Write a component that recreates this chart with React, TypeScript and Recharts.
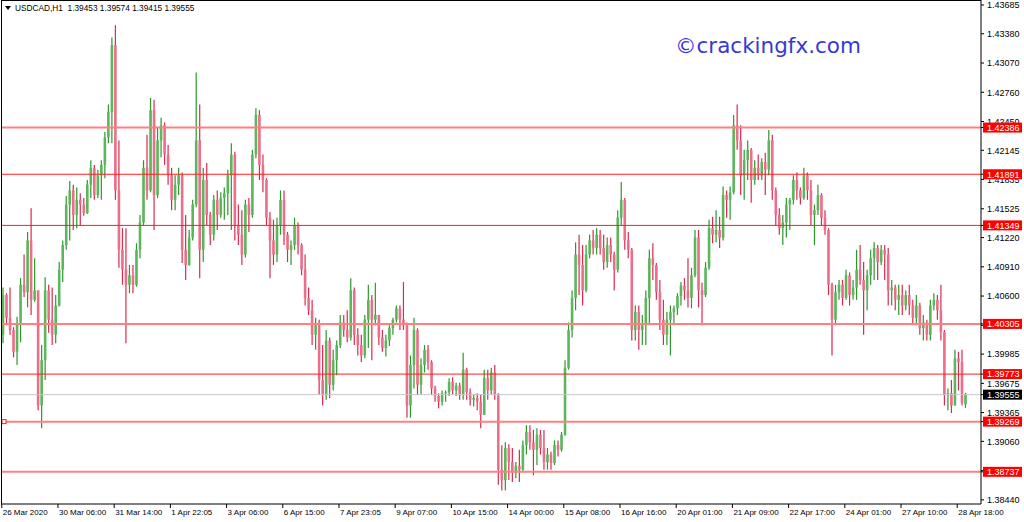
import React from 'react';
import { ComposedChart, Bar, XAxis, YAxis, ReferenceLine } from 'recharts';

// H1 candles (two hours per candle)
const opens = [
  1.4019, 1.4061, 1.4037, 1.4024, 1.4001, 1.4032, 1.4072, 1.4064, 1.4119, 1.4056,
  1.4066, 1.3944, 1.3992, 1.4066, 1.4035, 1.4019, 1.4050, 1.4088, 1.4114, 1.4157,
  1.4172, 1.4146, 1.4162, 1.4157, 1.4148, 1.4178, 1.4196, 1.4167, 1.4188, 1.4199,
  1.4228, 1.4255, 1.4326, 1.4172, 1.4109, 1.4088, 1.4072, 1.4082, 1.4072, 1.4109,
  1.4138, 1.4196, 1.4172, 1.4257, 1.4167, 1.4225, 1.4241, 1.4210, 1.4188, 1.4162,
  1.4178, 1.4188, 1.4109, 1.4093, 1.4122, 1.4157, 1.4225, 1.4109, 1.4183, 1.4146,
  1.4125, 1.4162, 1.4146, 1.4164, 1.4169, 1.4188, 1.4210, 1.4135, 1.4125, 1.4104,
  1.4157, 1.4146, 1.4210, 1.4252, 1.4199, 1.4183, 1.4143, 1.4119, 1.4104, 1.4135,
  1.4162, 1.4125, 1.4109, 1.4114, 1.4135, 1.4114, 1.4088, 1.4058, 1.4045, 1.4019,
  1.4029, 1.3971, 1.3955, 1.4013, 1.3966, 1.3992, 1.4008, 1.4032, 1.4024, 1.4016,
  1.4066, 1.4019, 1.4008, 1.3997, 1.4035, 1.4056, 1.4035, 1.4040, 1.4016, 1.4005,
  1.4013, 1.4026, 1.4035, 1.4047, 1.4035, 1.4029, 1.3944, 1.3987, 1.4024, 1.3966,
  1.3987, 1.4003, 1.3990, 1.3962, 1.3954, 1.3948, 1.3957, 1.3958, 1.3969, 1.3960,
  1.3965, 1.3955, 1.3982, 1.3958, 1.3950, 1.3952, 1.3948, 1.3934, 1.3973, 1.3960,
  1.3979, 1.3955, 1.3876, 1.3865, 1.3899, 1.3884, 1.3873, 1.3880, 1.3876, 1.3902,
  1.3916, 1.3905, 1.3897, 1.3913, 1.3899, 1.3884, 1.3892, 1.3883, 1.3902, 1.3897,
  1.3913, 1.3984, 1.4024, 1.4058, 1.4104, 1.4093, 1.4066, 1.4104, 1.4119, 1.4111,
  1.4125, 1.4111, 1.4096, 1.4114, 1.4104, 1.4088, 1.4143, 1.4162, 1.4119, 1.4109,
  1.4024, 1.4043, 1.4024, 1.4029, 1.4058, 1.4100, 1.4093, 1.4064, 1.4035, 1.4019,
  1.4035, 1.4043, 1.4047, 1.4060, 1.4071, 1.4066, 1.4058, 1.4082, 1.4122, 1.4066,
  1.4061, 1.4090, 1.4132, 1.4125, 1.4130, 1.4122, 1.4167, 1.4162, 1.4170, 1.4241,
  1.4225, 1.4188, 1.4204, 1.4215, 1.4183, 1.4196, 1.4188, 1.4202, 1.4194, 1.4225,
  1.4172, 1.4146, 1.4132, 1.4138, 1.4157, 1.4162, 1.4183, 1.4172, 1.4164, 1.4188,
  1.4172, 1.4146, 1.4151, 1.4167, 1.4143, 1.4130, 1.4072, 1.4035, 1.4064, 1.4072,
  1.4058, 1.4082, 1.4061, 1.4069, 1.4088, 1.4077, 1.4066, 1.4082, 1.4100, 1.4111,
  1.4096, 1.4109, 1.4104, 1.4066, 1.4069, 1.4056, 1.4061, 1.4050, 1.4061, 1.4050,
  1.4037, 1.4050, 1.4026, 1.4032, 1.4019, 1.4050, 1.4056, 1.4045, 1.4022, 1.3955,
  1.3957, 1.3944, 1.3994, 1.3990, 1.39453,
];

const highs = [
  1.4069, 1.4063, 1.4069, 1.4027, 1.4038, 1.4079, 1.4104, 1.4128, 1.4153, 1.4100,
  1.4066, 1.4008, 1.4080, 1.4072, 1.4069, 1.4061, 1.4096, 1.4119, 1.4166, 1.4182,
  1.4178, 1.4175, 1.4169, 1.4164, 1.4183, 1.4204, 1.4199, 1.4194, 1.4204, 1.4234,
  1.4263, 1.4334, 1.4347, 1.4225, 1.4132, 1.4132, 1.4093, 1.4093, 1.4116, 1.4146,
  1.4204, 1.4231, 1.4270, 1.4268, 1.4239, 1.4249, 1.4244, 1.4220, 1.4196, 1.4188,
  1.4196, 1.4191, 1.4146, 1.4130, 1.4162, 1.4297, 1.4263, 1.4196, 1.4201, 1.4149,
  1.4167, 1.4172, 1.4170, 1.4175, 1.4194, 1.4222, 1.4213, 1.4157, 1.4151, 1.4162,
  1.4164, 1.4215, 1.4259, 1.4257, 1.4210, 1.4185, 1.4149, 1.4141, 1.4143, 1.4172,
  1.4172, 1.4128, 1.4119, 1.4143, 1.4138, 1.4116, 1.4104, 1.4069, 1.4056, 1.4037,
  1.4035, 1.4008, 1.4024, 1.4016, 1.4003, 1.4013, 1.4040, 1.4040, 1.4045, 1.4079,
  1.4069, 1.4026, 1.4019, 1.4040, 1.4072, 1.4061, 1.4074, 1.4040, 1.4024, 1.4019,
  1.4029, 1.4037, 1.4050, 1.4050, 1.4075, 1.4032, 1.3997, 1.4037, 1.4026, 1.3994,
  1.4008, 1.4008, 1.3992, 1.3965, 1.3957, 1.3960, 1.3960, 1.3973, 1.3974, 1.3968,
  1.3968, 1.4000, 1.3984, 1.3962, 1.3956, 1.3957, 1.3955, 1.3982, 1.3982, 1.3984,
  1.3987, 1.3957, 1.3902, 1.3905, 1.3903, 1.3899, 1.3884, 1.3897, 1.3907, 1.3923,
  1.3923, 1.3918, 1.3920, 1.3918, 1.3918, 1.3899, 1.3895, 1.3907, 1.3907, 1.3916,
  1.3992, 1.4032, 1.4066, 1.4117, 1.4125, 1.4114, 1.4114, 1.4125, 1.4130, 1.4132,
  1.4130, 1.4125, 1.4122, 1.4122, 1.4107, 1.4151, 1.4181, 1.4164, 1.4128, 1.4111,
  1.4050, 1.4050, 1.4040, 1.4066, 1.4109, 1.4116, 1.4095, 1.4077, 1.4056, 1.4043,
  1.4050, 1.4050, 1.4063, 1.4075, 1.4079, 1.4100, 1.4090, 1.4130, 1.4130, 1.4074,
  1.4096, 1.4141, 1.4144, 1.4151, 1.4144, 1.4176, 1.4172, 1.4176, 1.4252, 1.4263,
  1.4241, 1.4215, 1.4225, 1.4217, 1.4204, 1.4210, 1.4206, 1.4212, 1.4236, 1.4231,
  1.4175, 1.4153, 1.4146, 1.4164, 1.4164, 1.4188, 1.4191, 1.4175, 1.4196, 1.4191,
  1.4183, 1.4157, 1.4178, 1.4169, 1.4151, 1.4132, 1.4074, 1.4072, 1.4077, 1.4077,
  1.4088, 1.4085, 1.4077, 1.4109, 1.4114, 1.4096, 1.4088, 1.4109, 1.4117, 1.4114,
  1.4114, 1.4114, 1.4111, 1.4077, 1.4072, 1.4072, 1.4072, 1.4066, 1.4072, 1.4056,
  1.4061, 1.4053, 1.4040, 1.4035, 1.4056, 1.4063, 1.4061, 1.4072, 1.4024, 1.3962,
  1.3971, 1.4003, 1.4001, 1.4003, 1.39574,
];

const lows = [
  1.4010, 1.4029, 1.4019, 1.3995, 1.3987, 1.4011, 1.4059, 1.4048, 1.4040, 1.4054,
  1.3939, 1.3920, 1.3971, 1.4021, 1.4008, 1.4010, 1.4049, 1.4075, 1.4109, 1.4119,
  1.4130, 1.4132, 1.4135, 1.4145, 1.4147, 1.4164, 1.4162, 1.4164, 1.4162, 1.4185,
  1.4222, 1.4222, 1.4162, 1.4090, 1.4072, 1.4010, 1.4063, 1.4063, 1.4070, 1.4100,
  1.4135, 1.4162, 1.4170, 1.4130, 1.4164, 1.4207, 1.4199, 1.4178, 1.4151, 1.4151,
  1.4167, 1.4095, 1.4077, 1.4092, 1.4119, 1.4154, 1.4079, 1.4096, 1.4135, 1.4114,
  1.4119, 1.4130, 1.4143, 1.4141, 1.4146, 1.4130, 1.4119, 1.4114, 1.4093, 1.4101,
  1.4128, 1.4143, 1.4206, 1.4183, 1.4170, 1.4135, 1.4079, 1.4093, 1.4096, 1.4125,
  1.4114, 1.4096, 1.4093, 1.4109, 1.4104, 1.4082, 1.4050, 1.4040, 1.4008, 1.4003,
  1.3955, 1.3944, 1.3950, 1.3952, 1.3960, 1.3976, 1.4005, 1.4017, 1.4011, 1.4013,
  1.4008, 1.3997, 1.3990, 1.3994, 1.4005, 1.3992, 1.4029, 1.4008, 1.4001, 1.3996,
  1.4007, 1.4019, 1.4032, 1.4024, 1.4024, 1.3931, 1.3931, 1.3962, 1.3955, 1.3955,
  1.3979, 1.3982, 1.3955, 1.3948, 1.3941, 1.3944, 1.3948, 1.3954, 1.3956, 1.3954,
  1.3950, 1.3950, 1.3950, 1.3944, 1.3943, 1.3939, 1.3920, 1.3934, 1.3950, 1.3955,
  1.3950, 1.3860, 1.3854, 1.3854, 1.3865, 1.3863, 1.3867, 1.3863, 1.3873, 1.3892,
  1.3897, 1.3870, 1.3881, 1.3892, 1.3876, 1.3876, 1.3876, 1.3881, 1.3890, 1.3895,
  1.3912, 1.3982, 1.4016, 1.4045, 1.4061, 1.4050, 1.4064, 1.4100, 1.4104, 1.4104,
  1.4104, 1.4088, 1.4090, 1.4096, 1.4066, 1.4085, 1.4135, 1.4109, 1.4100, 1.4013,
  1.4013, 1.4003, 1.4008, 1.4008, 1.4029, 1.4077, 1.4056, 1.4024, 1.4008, 1.4008,
  1.3997, 1.4029, 1.4040, 1.4050, 1.4056, 1.4048, 1.4047, 1.4080, 1.4048, 1.4029,
  1.4059, 1.4088, 1.4116, 1.4117, 1.4111, 1.4119, 1.4143, 1.4141, 1.4168, 1.4215,
  1.4167, 1.4162, 1.4183, 1.4159, 1.4178, 1.4183, 1.4183, 1.4167, 1.4188, 1.4162,
  1.4135, 1.4125, 1.4114, 1.4122, 1.4130, 1.4157, 1.4162, 1.4157, 1.4162, 1.4162,
  1.4135, 1.4114, 1.4146, 1.4135, 1.4125, 1.4061, 1.3997, 1.4029, 1.4056, 1.4050,
  1.4056, 1.4050, 1.4056, 1.4056, 1.4072, 1.4019, 1.4045, 1.4072, 1.4077, 1.4077,
  1.4093, 1.4077, 1.4050, 1.4050, 1.4045, 1.4040, 1.4040, 1.4045, 1.4040, 1.4029,
  1.4029, 1.4019, 1.4013, 1.4013, 1.4013, 1.4045, 1.4035, 1.4013, 1.3944, 1.3939,
  1.3936, 1.3944, 1.3960, 1.3944, 1.39415,
];

const closes = [
  1.4061, 1.4037, 1.4024, 1.4001, 1.4032, 1.4072, 1.4064, 1.4119, 1.4056, 1.4066,
  1.3944, 1.3992, 1.4066, 1.4035, 1.4019, 1.4050, 1.4088, 1.4114, 1.4157, 1.4172,
  1.4146, 1.4162, 1.4157, 1.4148, 1.4178, 1.4196, 1.4167, 1.4188, 1.4199, 1.4228,
  1.4255, 1.4326, 1.4172, 1.4109, 1.4088, 1.4072, 1.4082, 1.4072, 1.4109, 1.4138,
  1.4196, 1.4172, 1.4257, 1.4167, 1.4225, 1.4241, 1.4210, 1.4188, 1.4162, 1.4178,
  1.4188, 1.4109, 1.4093, 1.4122, 1.4157, 1.4225, 1.4109, 1.4183, 1.4146, 1.4125,
  1.4162, 1.4146, 1.4164, 1.4169, 1.4188, 1.4210, 1.4135, 1.4125, 1.4104, 1.4157,
  1.4146, 1.4210, 1.4252, 1.4199, 1.4183, 1.4143, 1.4119, 1.4104, 1.4135, 1.4162,
  1.4125, 1.4109, 1.4114, 1.4135, 1.4114, 1.4088, 1.4058, 1.4045, 1.4019, 1.4029,
  1.3971, 1.3955, 1.4013, 1.3966, 1.3992, 1.4008, 1.4032, 1.4024, 1.4016, 1.4066,
  1.4019, 1.4008, 1.3997, 1.4035, 1.4056, 1.4035, 1.4040, 1.4016, 1.4005, 1.4013,
  1.4026, 1.4035, 1.4047, 1.4035, 1.4029, 1.3944, 1.3987, 1.4024, 1.3966, 1.3987,
  1.4003, 1.3990, 1.3962, 1.3954, 1.3948, 1.3957, 1.3958, 1.3969, 1.3960, 1.3965,
  1.3955, 1.3982, 1.3958, 1.3950, 1.3952, 1.3948, 1.3934, 1.3973, 1.3960, 1.3979,
  1.3955, 1.3876, 1.3865, 1.3899, 1.3884, 1.3873, 1.3880, 1.3876, 1.3902, 1.3916,
  1.3905, 1.3897, 1.3913, 1.3899, 1.3884, 1.3892, 1.3883, 1.3902, 1.3897, 1.3913,
  1.3984, 1.4024, 1.4058, 1.4104, 1.4093, 1.4066, 1.4104, 1.4119, 1.4111, 1.4125,
  1.4111, 1.4096, 1.4114, 1.4104, 1.4088, 1.4143, 1.4162, 1.4119, 1.4109, 1.4024,
  1.4043, 1.4024, 1.4029, 1.4058, 1.4100, 1.4093, 1.4064, 1.4035, 1.4019, 1.4035,
  1.4043, 1.4047, 1.4060, 1.4071, 1.4066, 1.4058, 1.4082, 1.4122, 1.4066, 1.4061,
  1.4090, 1.4132, 1.4125, 1.4130, 1.4122, 1.4167, 1.4162, 1.4170, 1.4241, 1.4225,
  1.4188, 1.4204, 1.4215, 1.4183, 1.4196, 1.4188, 1.4202, 1.4194, 1.4225, 1.4172,
  1.4146, 1.4132, 1.4138, 1.4157, 1.4162, 1.4183, 1.4172, 1.4164, 1.4188, 1.4172,
  1.4146, 1.4151, 1.4167, 1.4143, 1.4130, 1.4072, 1.4035, 1.4064, 1.4072, 1.4058,
  1.4082, 1.4061, 1.4069, 1.4088, 1.4077, 1.4066, 1.4082, 1.4100, 1.4111, 1.4096,
  1.4109, 1.4104, 1.4066, 1.4069, 1.4056, 1.4061, 1.4050, 1.4061, 1.4050, 1.4037,
  1.4050, 1.4026, 1.4032, 1.4019, 1.4050, 1.4056, 1.4045, 1.4022, 1.3955, 1.3957,
  1.3944, 1.3994, 1.3990, 1.3947, 1.39555,
];

const timeTicks = [0, 16, 32, 48, 64, 80, 96, 112, 128, 144, 160, 176, 192, 208, 224, 240, 256, 272];
const timeLabels = [
  '26 Mar 2020', '30 Mar 06:00', '31 Mar 14:00', '1 Apr 22:05', '3 Apr 06:00', '6 Apr 15:00',
  '7 Apr 23:05', '9 Apr 07:00', '10 Apr 15:00', '14 Apr 00:00', '15 Apr 08:00', '16 Apr 16:00',
  '20 Apr 01:00', '21 Apr 09:00', '22 Apr 17:00', '24 Apr 01:00', '27 Apr 10:00', '28 Apr 18:00',
];

const priceTicks = [
  1.43685, 1.4338, 1.4307, 1.4276, 1.4245, 1.42145, 1.41835, 1.41525, 1.4122,
  1.4091, 1.406, 1.4029, 1.39985, 1.39675, 1.39365, 1.3906, 1.3875, 1.3844,
];

const levels = [1.42386, 1.41891, 1.41349, 1.40305, 1.39773, 1.39269, 1.38737];
const bidPrice = 1.39555;
const symbolLine = 'USDCAD,H1  1.39453 1.39574 1.39415 1.39555';
const watermark = '\u00a9crackingfx.com';

const data = opens.map((open, i) => ({ i, open, high: highs[i], low: lows[i], close: closes[i] }));

const FONT = '"Liberation Sans", Arial, sans-serif';
// levels that sit on a half pixel in the screenshot look wider and paler
const softLevels = [1.42386, 1.40305, 1.39269, 1.38737];

const Candle = (props: any) => {
  const { x, y, width, height, payload } = props;
  if (!payload || payload.high == null) return null;
  const { open, high, low, close } = payload;
  const top = Math.min(y, y + height);
  const h = Math.abs(height);
  const k = h / (high - low);
  const yo = top + (high - open) * k;
  const yc = top + (high - close) * k;
  const up = close >= open;
  const cx = x + width / 2;
  return (
    <g>
      <line x1={cx} x2={cx} y1={top} y2={top + h} stroke={up ? '#2a992a' : '#dd2850'} strokeWidth={1.2} />
      <rect
        x={cx - 1.3}
        y={Math.min(yo, yc)}
        width={2.6}
        height={Math.max(1, Math.abs(yo - yc))}
        fill={up ? '#5cb65c' : '#eb6e8a'}
      />
    </g>
  );
};

const TimeTick = (props: any) => {
  const { x, y, payload } = props;
  const label = timeLabels[timeTicks.indexOf(payload.value)];
  return (
    <g>
      <line x1={x - 1} x2={x - 1} y1={y} y2={y + 4} stroke="#000" />
      <text x={x} y={y + 11} fontSize={8} fontFamily={FONT} fill="#000">
        {label}
      </text>
    </g>
  );
};

// plain price labels first, then the tagged levels so the tags sit on top
const PriceTick = (props: any) => {
  const { x, y, payload } = props;
  const v = payload.value as number;
  const tagged = levels.includes(v) || v === bidPrice;
  if (!tagged) {
    return (
      <text x={x} y={y + 3.3} fontSize={9} fontFamily={FONT} fill="#000">
        {v.toFixed(5)}
      </text>
    );
  }
  return (
    <g>
      <rect x={x - 4} y={y - 5} width={39} height={10} fill={v === bidPrice ? '#000' : '#ff0000'} />
      <text x={x} y={y + 3.3} fontSize={9} fontFamily={FONT} fill="#fff">
        {v.toFixed(5)}
      </text>
    </g>
  );
};

const StartMark = ({ viewBox }: any) => {
  if (!viewBox) return null;
  return <rect x={viewBox.x + 1} y={viewBox.y - 2} width={4} height={4} fill="#fff" stroke="#ff2020" strokeWidth={1} />;
};

export default function App() {
  return (
    <div style={{ position: 'fixed', left: 0, top: 0, width: 1024, height: 522, background: '#fff', overflow: 'hidden' }}>
      <ComposedChart
        width={1024}
        height={522}
        data={data}
        margin={{ top: 0, right: 0, bottom: 0, left: 1 }}
        barCategoryGap={0}
      >
        <XAxis
          dataKey="i"
          type="category"
          ticks={timeTicks}
          interval={0}
          height={18}
          tickSize={0}
          tickMargin={0}
          tick={<TimeTick />}
          axisLine={{ stroke: '#000' }}
          padding={{ left: 0, right: 14 }}
        />
        <YAxis
          orientation="right"
          width={43}
          domain={[1.38396, 1.43738]}
          allowDataOverflow
          ticks={[...priceTicks, bidPrice, ...levels]}
          interval={0}
          tickSize={3}
          tickMargin={3}
          tick={<PriceTick />}
          axisLine={{ stroke: '#000' }}
          tickLine={{ stroke: '#000' }}
        />
        <Bar
          dataKey={(d: any) => (d.high == null ? null : [d.low, d.high])}
          shape={<Candle />}
          isAnimationActive={false}
        />
        <ReferenceLine y={bidPrice} stroke="#c8c8c8" strokeWidth={1} />
        {levels.map((lv) => (
          <ReferenceLine
            key={lv}
            y={lv}
            stroke={softLevels.includes(lv) ? '#ff8080' : '#ff1e1e'}
            strokeWidth={softLevels.includes(lv) ? 2 : 1}
            label={lv === 1.39269 ? (p: any) => <StartMark {...p} /> : undefined}
          />
        ))}
      </ComposedChart>
      <div style={{ position: 'absolute', left: 1, top: 0, width: 980, height: 504, borderTop: '1px solid #000', borderLeft: '1px solid #000', boxSizing: 'border-box', pointerEvents: 'none' }} />
      <svg width={1024} height={522} style={{ position: 'absolute', left: 0, top: 0, pointerEvents: 'none' }}>
        <polygon points="5,6 11,6 8,10" fill="#000" />
        <text x={15} y={10.5} fontSize={8.3} fontFamily={FONT} fill="#000" style={{ whiteSpace: 'pre' }}>
          {symbolLine}
        </text>
        <text x={675} y={53} fontSize={21.5} fontFamily='"DejaVu Sans", sans-serif' fill="#3838d4">
          {watermark}
        </text>
      </svg>
    </div>
  );
}
